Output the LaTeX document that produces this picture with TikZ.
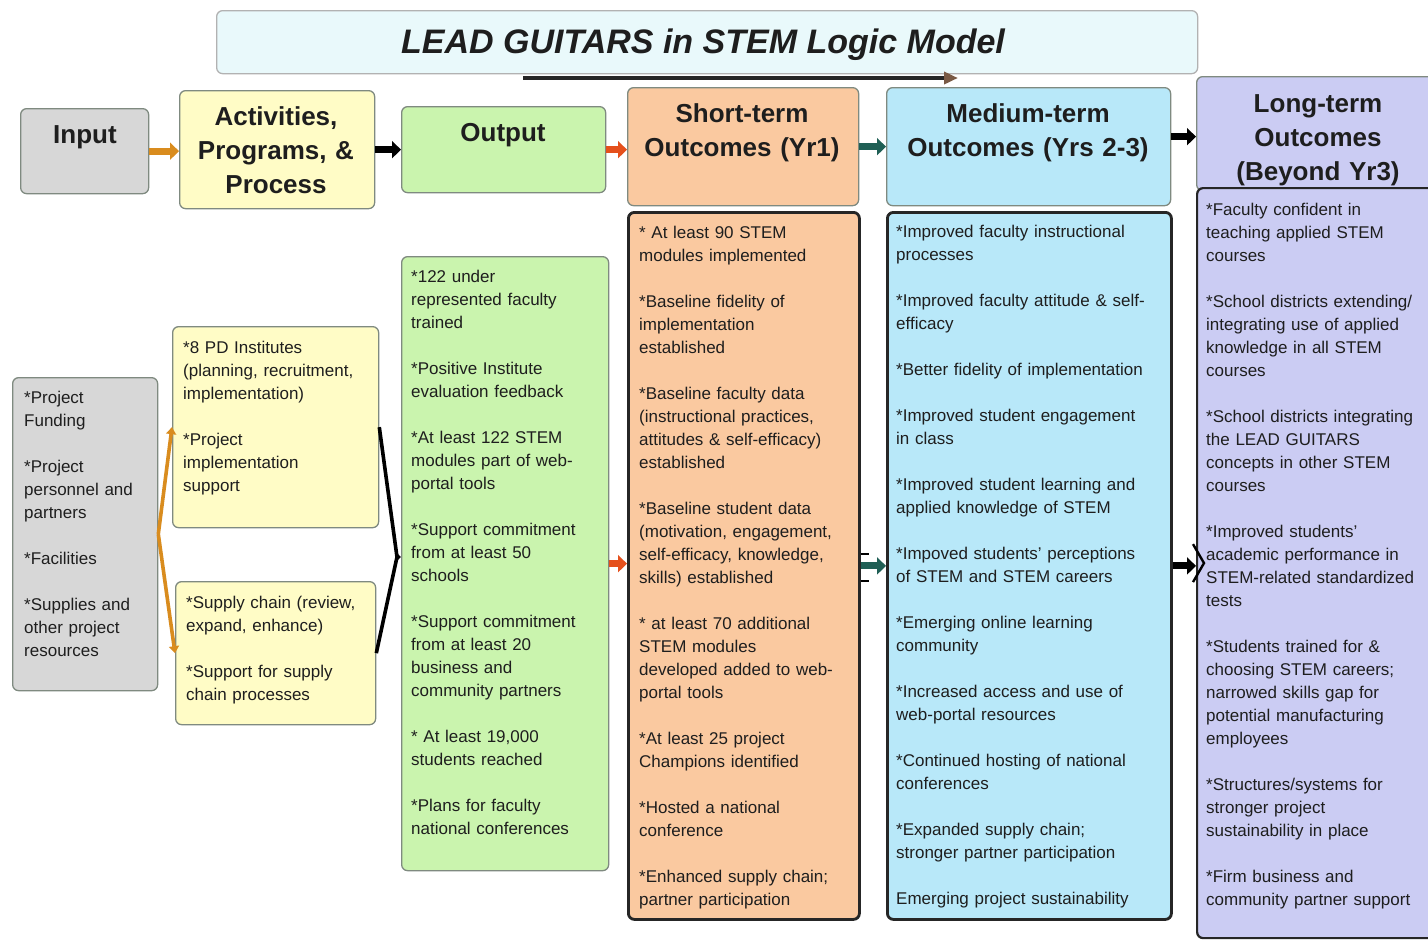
\documentclass[tikz,border=0pt]{standalone}
\usepackage{fontspec}
\setmainfont{Liberation Sans}
\usetikzlibrary{arrows.meta,calc}
\definecolor{titlefill}{HTML}{E9F9FB}
\definecolor{grayfill}{HTML}{D7D7D7}
\definecolor{yelfill}{HTML}{FFFCC6}
\definecolor{grnfill}{HTML}{CAF4AE}
\definecolor{pchfill}{HTML}{FAC9A0}
\definecolor{blufill}{HTML}{B8E8F9}
\definecolor{lavfill}{HTML}{CBCCF3}
\definecolor{boxline}{HTML}{7F8A80}
\definecolor{txt}{HTML}{1E1E1E}
\definecolor{orng}{HTML}{D98C1E}
\definecolor{redo}{HTML}{E5501C}
\definecolor{tealc}{HTML}{1F5F55}
\definecolor{tipbrown}{HTML}{7A5A45}
\newcommand\pgap{\\[23pt]}
\tikzset{
  bx/.style={draw=boxline, line width=1.3pt, rounded corners=6pt, anchor=north west, inner sep=0pt},
  darkbx/.style={draw=black!85, line width=2.8pt, rounded corners=6pt, anchor=north west, inner sep=0pt},
  hdtext/.style={anchor=base, text width=280pt, align=center, inner sep=0pt, font=\fontsize{26}{34}\selectfont\bfseries, text=txt},
  bodytext/.style={anchor=base west, text width=300pt, align=left, inner sep=0pt, font=\fontsize{17}{23}\selectfont, text=txt},
  fat/.style={line width=7pt, -{Triangle[length=9pt,width=17pt]}},
  conn/.style={line width=3.6pt},
}
\begin{document}
\begin{tikzpicture}[x=1pt,y=-1pt]
\fill[white] (0,0) rectangle (1428,940);
\useasboundingbox (0,0) rectangle (1428,940);

% title
\node[bx, draw=gray!60, fill=titlefill, minimum width=981, minimum height=63] (title) at (216,10) {};
\node[anchor=base, inner sep=0pt, font=\fontsize{34}{40}\selectfont\bfseries\itshape, text=txt] (titletext) at (703,53) {LEAD GUITARS in STEM Logic Model};
\coordinate (ta) at (523,78);
\coordinate (tb) at (958,78);
\draw[line width=4.5pt, black!85, -{Triangle[length=14pt,width=12pt,color=tipbrown]}] (ta) -- (tb);

% header boxes
\node[bx, fill=grayfill, minimum width=128, minimum height=85] (inH) at (20,108) {};
\node[bx, fill=yelfill, minimum width=195, minimum height=118] (actH) at (179,90) {};
\node[bx, fill=grnfill, minimum width=204, minimum height=86] (outH) at (401,106) {};
\node[bx, fill=pchfill, minimum width=231, minimum height=118] (stH) at (627,87) {};
\node[bx, fill=blufill, minimum width=284, minimum height=118] (mtH) at (886,87) {};
\node[bx, fill=lavfill, minimum width=240, minimum height=114] (ltH) at (1196,76) {};

\node[hdtext] (inT) at (85,143) {Input};
\node[hdtext] (actT) at (276,125) {Activities,\\Programs, \&\\Process};
\node[hdtext] (outT) at (503,141) {Output};
\node[hdtext] (stT) at (742,122) {Short-term\\Outcomes (Yr1)};
\node[hdtext] (mtT) at (1028,122) {Medium-term\\Outcomes (Yrs 2-3)};
\node[hdtext] (ltT) at (1318,112) {Long-term\\Outcomes\\(Beyond Yr3)};

% content boxes
\node[bx, fill=grayfill, minimum width=145, minimum height=313] (inB) at (12,377) {};
\node[bx, fill=yelfill, minimum width=206, minimum height=201] (actB1) at (172,326) {};
\node[bx, fill=yelfill, minimum width=200, minimum height=143] (actB2) at (175,581) {};
\node[bx, fill=grnfill, minimum width=207, minimum height=614] (outB) at (401,256) {};
\node[darkbx, fill=pchfill, minimum width=231, minimum height=707] (stB) at (627,211) {};
\node[darkbx, fill=blufill, minimum width=284, minimum height=707] (mtB) at (886,211) {};
\node[darkbx, line width=2.2pt, fill=lavfill, minimum width=240, minimum height=750] (ltB) at (1196,187) {};

% header arrows
\draw[fat, orng] (inH.east) -- (inH.east -| actH.west);
\draw[fat, black] (actH.east) -- (actH.east -| outH.west);
\draw[fat, redo] (outH.east) -- (outH.east -| stH.west);
\draw[fat, tealc] (stH.east) -- (stH.east -| mtH.west);
\draw[fat, black] ([yshift=10pt]mtH.east) -- ([yshift=10pt]mtH.east -| ltH.west);

% content connectors
\draw[conn, orng, -{Triangle[length=7pt,width=10pt]}] (inB.east) -- (actB1.west);
\draw[conn, orng, -{Triangle[length=7pt,width=10pt]}] (inB.east) -- (actB2.west);
\coordinate (jn) at (397,557);
\draw[conn, black, line join=round] (actB1.east) -- (jn) -- (actB2.east);
\draw[conn, black, -{Triangle[length=5pt,width=9pt]}] (jn) -- (jn -| outB.west);
\draw[fat, redo] (outB.east) -- (outB.east -| stB.west);
\draw[fat, tealc] (stB.east) -- (stB.east -| mtB.west);
\draw[line width=1.8pt] ([yshift=12pt]stB.east) -- ++(8,0);
\draw[line width=1.8pt] ([yshift=-15pt]stB.east) -- ++(8,0);
\draw[fat, black] (mtB.east) -- (mtB.east -| ltB.west);
\draw[line width=2.4pt] ([shift={(-3pt,19pt)}]ltB.west) -- ([xshift=8pt]ltB.west) -- ([shift={(-3pt,-19pt)}]ltB.west);

% body texts
\node[bodytext] (inX) at (24,403) {*Project\\Funding\pgap *Project\\personnel and\\partners\pgap *Facilities\pgap *Supplies and\\other project\\resources};
\node[bodytext] (actX1) at (183,353) {*8 PD Institutes\\(planning, recruitment,\\implementation)\pgap *Project\\implementation\\support};
\node[bodytext] (actX2) at (186,608) {*Supply chain (review,\\expand, enhance)\pgap *Support for supply\\chain processes};
\node[bodytext] (outX) at (411,282) {*122 under\\represented faculty\\trained\pgap *Positive Institute\\evaluation feedback\pgap *At least 122 STEM\\modules part of web-\\portal tools\pgap *Support commitment\\from at least 50\\schools\pgap *Support commitment\\from at least 20\\business and\\community partners\pgap * At least 19,000\\students reached\pgap *Plans for faculty\\national conferences};
\node[bodytext] (stX) at (639,238) {* At least 90 STEM\\modules implemented\pgap *Baseline fidelity of\\implementation\\established\pgap *Baseline faculty data\\(instructional practices,\\attitudes \& self-efficacy)\\established\pgap *Baseline student data\\(motivation, engagement,\\self-efficacy, knowledge,\\skills) established\pgap * at least 70 additional\\STEM modules\\developed added to web-\\portal tools\pgap *At least 25 project\\Champions identified\pgap *Hosted a national\\conference\pgap *Enhanced supply chain;\\partner participation};
\node[bodytext] (mtX) at (896,237) {*Improved faculty instructional\\processes\pgap *Improved faculty attitude \& self-\\efficacy\pgap *Better fidelity of implementation\pgap *Improved student engagement\\in class\pgap *Improved student learning and\\applied knowledge of STEM\pgap *Impoved students' perceptions\\of STEM and STEM careers\pgap *Emerging online learning\\community\pgap *Increased access and use of\\web-portal resources\pgap *Continued hosting of national\\conferences\pgap *Expanded supply chain;\\stronger partner participation\pgap Emerging project sustainability};
\node[bodytext] (ltX) at (1206,215) {*Faculty confident in\\teaching applied STEM\\courses\pgap *School districts extending/\\integrating use of applied\\knowledge in all STEM\\courses\pgap *School districts integrating\\the LEAD GUITARS\\concepts in other STEM\\courses\pgap *Improved students'\\academic performance in\\STEM-related standardized\\tests\pgap *Students trained for \&\\choosing STEM careers;\\narrowed skills gap for\\potential manufacturing\\employees\pgap *Structures/systems for\\stronger project\\sustainability in place\pgap *Firm business and\\community partner support};
\end{tikzpicture}
\end{document}
